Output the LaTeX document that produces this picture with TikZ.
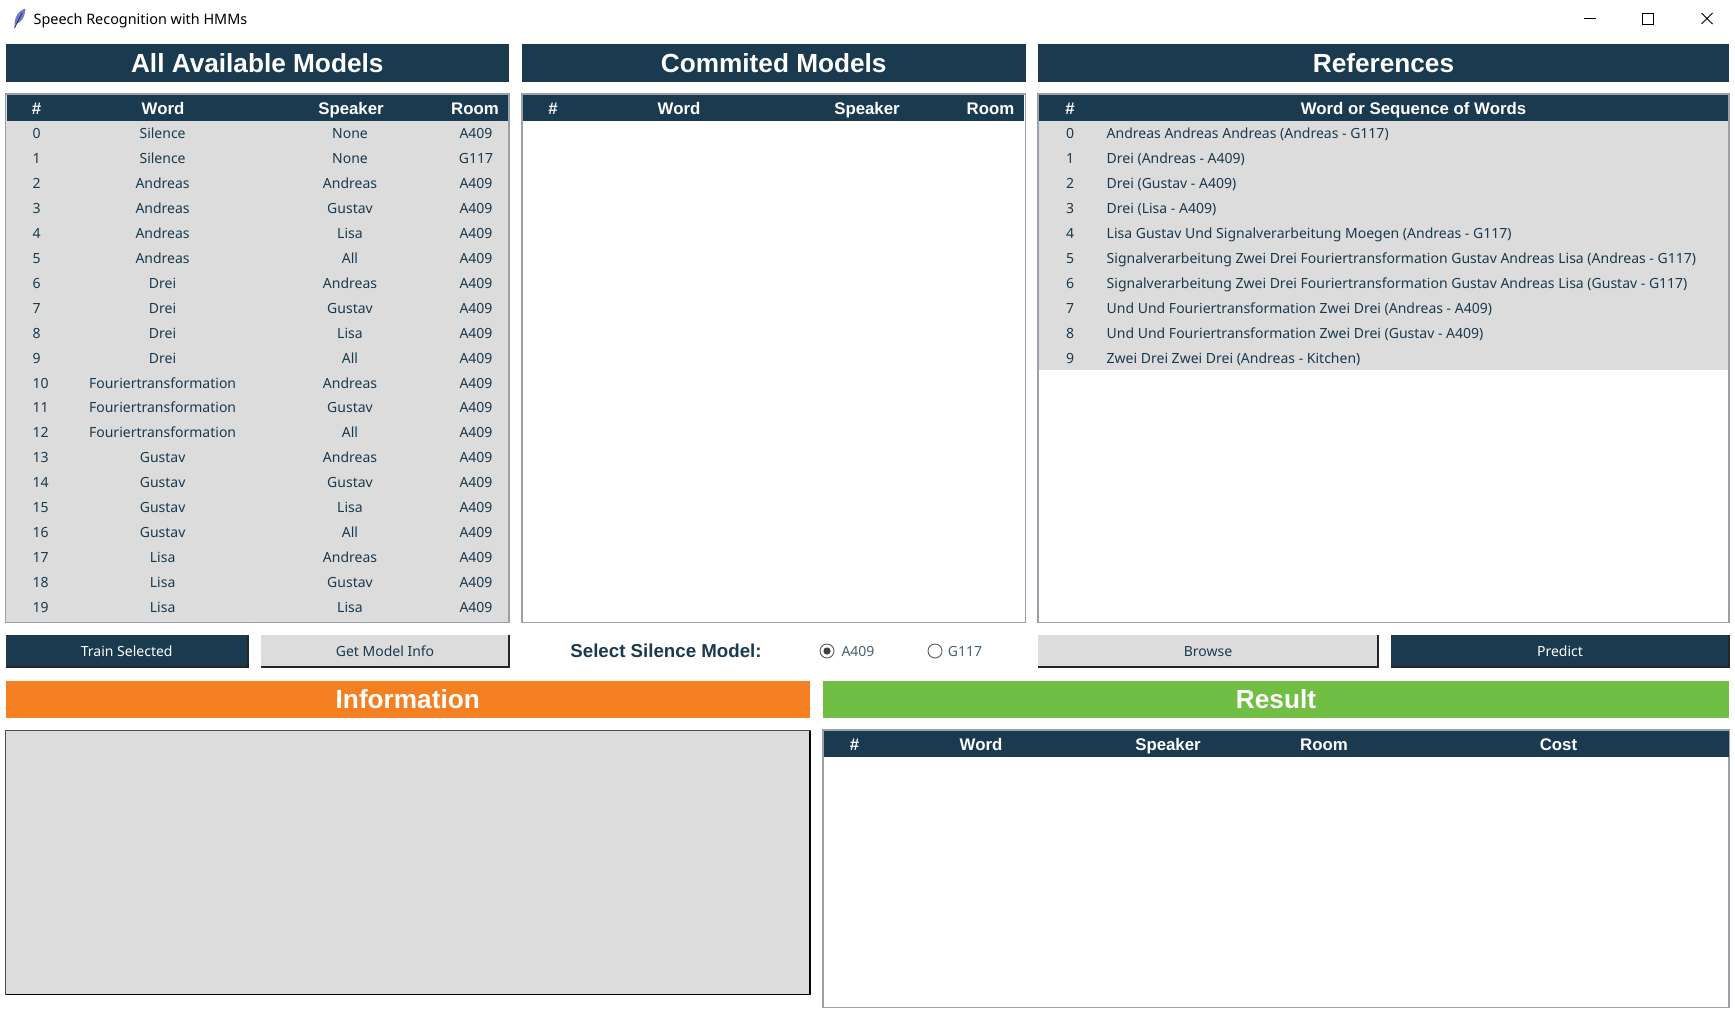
\documentclass[tikz,border=0pt]{standalone}
\usepackage{fontspec}
\setmainfont{Noto Sans}
\newfontfamily\headfont{Liberation Sans}
\definecolor{navy}{HTML}{1A3A4F}
\definecolor{panel}{HTML}{DCDCDC}
\definecolor{frame}{HTML}{9AA0A8}
\definecolor{infobar}{HTML}{F58021}
\definecolor{resultbar}{HTML}{70BF44}
\begin{document}
\begin{tikzpicture}[
    x=1pt, y=-1pt,
    box/.style={anchor=north west, inner sep=0pt, outer sep=0pt},
    title bar/.style={box, fill=navy, text=white, minimum height=37.5pt, font=\headfont\bfseries\fontsize{26.2}{30}\selectfont},
    table frame/.style={box, draw=frame, line width=1.2pt, minimum height=528.5pt},
    table head/.style={box, fill=navy, minimum height=26pt},
    head text/.style={anchor=base, text=white, inner sep=0pt, font=\headfont\bfseries\fontsize{16.8}{20}\selectfont},
    cell text/.style={text=navy, inner sep=0pt, font=\fontsize{14}{17}\selectfont},
    light button/.style={box, fill=panel, text=navy, minimum height=32pt, text height=10.5pt, text depth=0pt, font=\fontsize{14}{17}\selectfont},
    dark button/.style={box, fill=navy, text=white, minimum height=32pt, text height=10.5pt, text depth=0pt, font=\fontsize{14}{17}\selectfont},
    button edge/.style={black!85, line width=1.3pt},
    radio label/.style={text=navy!80, inner sep=0pt, font=\fontsize{14}{17}\selectfont},
    radio dot/.style={circle, draw=black!65, fill=white, line width=0.9pt, minimum size=14pt, inner sep=0pt}
  ]
  \useasboundingbox (0,0) rectangle (1735,1018);

  % Window bar
  \node[anchor=base west, inner sep=0pt, font=\fontsize{14.4}{17}\selectfont] (wintitle) at (33.5,24) {Speech Recognition with HMMs};
  \fill[navy!55!blue!60!white] (14.5,27.5) .. controls (14,17) and (18,11) .. (25.5,8.5) .. controls (25,17) and (21,23) .. (16,24) -- cycle;
  \draw[navy, line width=0.7pt] (14.5,28) -- (22,13);
  \draw[line width=0.8pt] (1584,18.5) -- (1596,18.5);
  \draw[line width=0.8pt] (1642.5,13) rectangle (1653.5,24);
  \draw[line width=0.8pt] (1701.5,13) -- (1712.5,24) (1701.5,24) -- (1712.5,13);

  % Section titles
  \node[title bar, minimum width=503.5pt] (allmodels) at (5.5,44.3) {All Available Models};
  \node[title bar, minimum width=503.5pt] (commited) at (522,44.3) {Commited Models};
  \node[title bar, minimum width=691pt] (references) at (1038,44.3) {References};

  % Table frames
  \node[table frame, fill=panel, minimum width=503.5pt] (alltable) at (5.5,94) {};
  \node[table frame, fill=white, minimum width=503.5pt] (committable) at (522,94) {};
  \node[table frame, fill=white, minimum width=691pt] (reftable) at (1038,94) {};
  \fill[panel] (1038.6,120) rectangle (1728.4,370);
  \node[table head, minimum width=501pt] (allhead) at (6.5,94.5) {};
  \node[table head, minimum width=501pt] (commithead) at (523,94.5) {};
  \node[table head, minimum width=689pt] (refhead) at (1039,94.5) {};

  % Table headers
  \foreach \xpos/\tag/\label in {36.5/a/\#, 163/b/Word, 351/c/Speaker, 475/d/Room,
      553/e/\#, 679/f/Word, 867/g/Speaker, 990.5/h/Room, 1070/i/\#, 1413.5/j/Word or Sequence of Words}
    \node[head text] (head\tag) at (\xpos,114) {\label};
  \foreach \idx/\word/\spk/\room in {0/Silence/None/A409, 1/Silence/None/G117,
      2/Andreas/Andreas/A409, 3/Andreas/Gustav/A409, 4/Andreas/Lisa/A409, 5/Andreas/All/A409,
      6/Drei/Andreas/A409, 7/Drei/Gustav/A409, 8/Drei/Lisa/A409, 9/Drei/All/A409,
      10/Fouriertransformation/Andreas/A409, 11/Fouriertransformation/Gustav/A409, 12/Fouriertransformation/All/A409,
      13/Gustav/Andreas/A409, 14/Gustav/Gustav/A409, 15/Gustav/Lisa/A409, 16/Gustav/All/A409,
      17/Lisa/Andreas/A409, 18/Lisa/Gustav/A409, 19/Lisa/Lisa/A409} {
      \pgfmathsetmacro{\rowy}{138.2 + 24.98 * \idx}
      \node[cell text, anchor=base west] (modelnum\idx) at (32.5,\rowy) {\idx};
      \node[cell text, anchor=base] (modelword\idx) at (162.6,\rowy) {\word};
      \node[cell text, anchor=base] (modelspk\idx) at (350,\rowy) {\spk};
      \node[cell text, anchor=base] (modelroom\idx) at (476,\rowy) {\room};
    }

  \foreach \idx/\refs in {0/Andreas Andreas Andreas (Andreas - G117), 1/Drei (Andreas - A409), 2/Drei (Gustav - A409), 3/Drei (Lisa - A409),
      4/Lisa Gustav Und Signalverarbeitung Moegen (Andreas - G117),
      5/Signalverarbeitung Zwei Drei Fouriertransformation Gustav Andreas Lisa (Andreas - G117),
      6/Signalverarbeitung Zwei Drei Fouriertransformation Gustav Andreas Lisa (Gustav - G117),
      7/Und Und Fouriertransformation Zwei Drei (Andreas - A409), 8/Und Und Fouriertransformation Zwei Drei (Gustav - A409),
      9/Zwei Drei Zwei Drei (Andreas - Kitchen)} {
      \pgfmathsetmacro{\rowy}{138.2 + 24.98 * \idx}
      \node[cell text, anchor=base] (refnum\idx) at (1070,\rowy) {\idx};
      \node[cell text, anchor=base west] (reftext\idx) at (1106.5,\rowy) {\refs};
    }

  % Buttons and silence choice
  \node[dark button, minimum width=242.5pt] (train) at (5.5,635) {Train Selected};
  \node[light button, minimum width=248pt] (getinfo) at (261,635) {Get Model Info};
  \node[light button, minimum width=340pt] (browse) at (1038,635) {Browse};
  \node[dark button, minimum width=338pt] (predict) at (1391,635) {Predict};
  \foreach \btn in {train,getinfo,browse,predict}
    \draw[button edge] (\btn.south west) -- (\btn.south east) -- (\btn.north east);
  \node[anchor=base, inner sep=0pt, text=navy, font=\headfont\bfseries\fontsize{18.7}{22}\selectfont] (silence) at (666,657.5) {Select Silence Model:};
  \node[radio dot] (radioa) at (827,651) {};
  \fill[black!75] (radioa) circle (3.6pt);
  \node[radio label, anchor=base] (labela) at (858,656) {A409};
  \node[radio dot] (radiob) at (935,651) {};
  \node[radio label, anchor=base] (labelb) at (965,656) {G117};

  % Lower panels
  \node[title bar, fill=infobar, minimum width=804.5pt] (information) at (5.5,680.5) {Information};
  \node[title bar, fill=resultbar, minimum width=906pt] (result) at (823,680.5) {Result};
  \node[box, fill=panel, draw=black!70, line width=1.3pt, minimum width=804.5pt, minimum height=264pt] (infobox) at (5.5,730.5) {};
  \draw[black, line width=1.3pt] (infobox.south west) -- (infobox.south east) -- (infobox.north east);
  \node[box, fill=white, draw=frame, line width=1.2pt, minimum width=906pt, minimum height=277.5pt] (resulttable) at (823,730) {};
  \node[table head, minimum width=905pt] (resulthead) at (823.5,730.5) {};
  \foreach \xpos/\tag/\label in {854.5/k/\#, 981/l/Word, 1168/m/Speaker, 1324/n/Room, 1558.5/o/Cost}
    \node[head text] (head\tag) at (\xpos,750.5) {\label};

\end{tikzpicture}
\end{document}
